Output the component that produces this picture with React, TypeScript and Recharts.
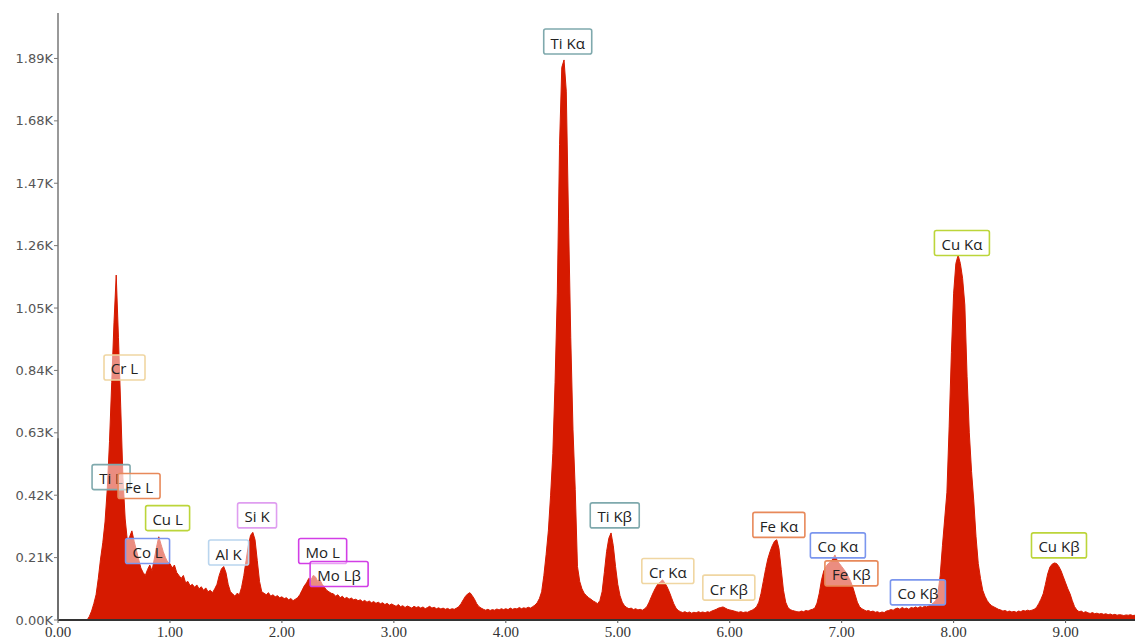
import React from "react";
import {
  AreaChart,
  Area,
  XAxis,
  YAxis,
  ReferenceDot,
  ReferenceLine,
} from "recharts";

// channel width of the spectrum, keV
const CHANNEL_KEV = 0.02;

// counts per channel, one row of 10 channels each (0.00 - 0.98 keV)
const counts0 = [
  0, 0, 0, 0, 0, 0, 0, 0, 0, 0,
  0, 0, 0, 0, 12, 30, 55, 85, 140, 205,
  260, 330, 440, 600, 800, 1000, 1161, 950, 720, 480,
  340, 265, 280, 300, 265, 235, 205, 175, 160, 150,
  170, 185, 165, 205, 245, 280, 255, 230, 210, 195,
];
const counts1 = [
  190, 175, 185, 160, 150, 140, 150, 125, 130, 115,
  120, 110, 118, 105, 112, 100, 108, 95, 100, 92,
  105, 120, 150, 172, 180, 160, 120, 95, 88, 80,
  90, 85, 110, 150, 200, 250, 285, 295, 270, 200,
  130, 95, 90, 85, 92, 80, 85, 78, 82, 75,
];
const counts2 = [
  78, 72, 75, 68, 72, 65, 70, 75, 85, 100,
  115, 125, 140, 135, 150, 145, 130, 135, 120, 110,
  100, 95, 90, 88, 80, 85, 75, 80, 72, 76,
  70, 74, 68, 70, 65, 68, 62, 66, 60, 64,
  58, 62, 56, 60, 55, 58, 52, 56, 50, 54,
];
const counts3 = [
  50, 46, 52, 45, 48, 42, 47, 44, 40, 46,
  42, 45, 40, 44, 38, 42, 46, 40, 43, 38,
  41, 37, 40, 36, 39, 35, 38, 36, 40, 45,
  55, 68, 80, 88, 92, 82, 70, 55, 45, 40,
  36, 33, 36, 32, 35, 33, 37, 34, 38, 35,
];
const counts4 = [
  38, 35, 40, 36, 39, 37, 42, 38, 41, 39,
  43, 40, 45, 50, 58, 72, 95, 150, 220, 300,
  420, 560, 800, 1100, 1600, 1860, 1885, 1780, 1350, 950,
  640, 440, 180, 130, 105, 90, 82, 75, 70, 64,
  60, 55, 65, 95, 160, 230, 275, 293, 250, 180,
];
const counts5 = [
  120, 82, 60, 48, 42, 38, 40, 35, 38, 34,
  36, 33, 38, 45, 60, 78, 95, 110, 122, 128,
  135, 125, 112, 95, 75, 55, 40, 32, 28, 25,
  28, 24, 27, 23, 26, 24, 28, 25, 27, 24,
  28, 26, 30, 33, 36, 40, 42, 44, 40, 36,
];
const counts6 = [
  34, 32, 30, 28, 26, 28, 25, 27, 26, 30,
  33, 38, 45, 60, 90, 130, 170, 205, 230, 250,
  265, 270, 240, 170, 100, 60, 42, 35, 32, 30,
  28, 27, 30, 28, 32, 30, 34, 36, 40, 57,
  90, 135, 165, 180, 190, 195, 205, 219, 200, 190,
];
const counts7 = [
  180, 170, 160, 145, 130, 110, 85, 60, 45, 38,
  34, 30, 32, 28, 30, 26, 28, 24, 27, 25,
  30, 32, 35, 33, 38, 40, 36, 42, 38, 40,
  36, 42, 40, 44, 40, 45, 42, 46, 44, 48,
  52, 58, 65, 90, 150, 250, 340, 430, 650, 900,
];
const counts8 = [
  1100, 1200, 1228, 1200, 1150, 1060, 820, 630, 500, 400,
  280, 190, 140, 100, 80, 65, 55, 48, 44, 40,
  36, 34, 30, 32, 28, 30, 27, 29, 26, 30,
  28, 32, 30, 33, 31, 33, 36, 42, 55, 70,
  88, 120, 155, 178, 188, 192, 190, 180, 165, 145,
];
const counts9 = [
  125, 105, 88, 65, 45, 34, 28, 30, 25, 28,
  24, 22, 25, 21, 23, 20, 22, 19, 21, 18,
  20, 17, 19, 16, 18, 17, 15, 17, 16, 18,
  15, 16,
];

const energyTicks = [0, 1, 2, 3, 4, 5, 6, 7, 8, 9];
const countTicks = [0, 210, 420, 630, 840, 1050, 1260, 1470, 1680, 1890];

// peak identifications: name, anchor energy (keV), anchor counts
const lineNames = [
  "Ti Kα", "Cr L", "Ti L", "Fe L", "Cu L", "Co L", "Al K", "Si K", "Mo L", "Mo Lβ",
  "Ti Kβ", "Cr Kα", "Cr Kβ", "Fe Kα", "Co Kα", "Fe Kβ", "Co Kβ", "Cu Kα", "Cu Kβ",
];
const lineEnergy = [
  4.553, 0.594, 0.474, 0.724, 0.979, 0.8, 1.524, 1.778, 2.364, 2.511,
  4.973, 5.447, 5.992, 6.439, 6.966, 7.087, 7.681, 8.074, 8.941,
];
const lineLevel = [
  1947, 850, 481, 451, 343, 232, 227, 352, 232, 155,
  352, 165, 109, 320, 251, 157, 93, 1269, 251,
];

const elementColor: Record<string, string> = {
  Ti: "#7fa9ad",
  Cr: "#f0d6a2",
  Fe: "#e8895a",
  Cu: "#bcd53a",
  Co: "#7b96ee",
  Al: "#b9d5ee",
  Si: "#df9ef0",
  Mo: "#d23fe6",
};

const spectrum = [
  ...counts0, ...counts1, ...counts2, ...counts3, ...counts4,
  ...counts5, ...counts6, ...counts7, ...counts8, ...counts9,
].map((c, i) => ({ energy: +(i * CHANNEL_KEV).toFixed(2), counts: c }));

const LABEL_FONT = "15px 'Open Sans'";
let measureCtx: CanvasRenderingContext2D | null = null;
function textWidth(s: string) {
  if (!measureCtx) measureCtx = document.createElement("canvas").getContext("2d");
  if (!measureCtx) return s.length * 9;
  measureCtx.font = LABEL_FONT;
  return measureCtx.measureText(s).width;
}

function LineTag({ cx, cy, name }: { cx?: number; cy?: number; name: string }) {
  if (cx == null || cy == null) return null;
  const w = Math.round(textWidth(name) + 14);
  const h = 25;
  const color = elementColor[name.split(" ")[0]];
  return (
    <g>
      <rect
        x={cx - w / 2}
        y={cy - h / 2}
        width={w}
        height={h}
        rx={2}
        fill="rgba(255,255,255,0.5)"
        stroke={color}
        strokeWidth={1.6}
      />
      <text
        x={cx}
        y={cy + 1}
        textAnchor="middle"
        dominantBaseline="central"
        fontFamily="'Open Sans'"
        fontSize={15}
        fill="#222"
      >
        {name}
      </text>
    </g>
  );
}

export default function App() {
  return (
    <div style={{ width: 1135, height: 639, background: "#fff" }}>
      <style>{"body{margin:0}"}</style>
      <AreaChart
        width={1135}
        height={639}
        data={spectrum}
        margin={{ top: 13, right: 0, bottom: 0, left: 0 }}
      >
        <XAxis
          dataKey="energy"
          type="number"
          domain={[0, 9.62]}
          ticks={energyTicks}
          allowDataOverflow
          tickFormatter={(v: number) => v.toFixed(2)}
          height={19}
          tickSize={3}
          tickMargin={3}
          axisLine={{ stroke: "#333", strokeWidth: 2 }}
          tickLine={{ stroke: "#555" }}
          tick={{ fill: "#333", fontSize: 15, fontFamily: "'Liberation Serif'" }}
        />
        <YAxis
          type="number"
          domain={[0, 2043]}
          ticks={countTicks}
          allowDataOverflow
          tickFormatter={(v: number) => (v / 1000).toFixed(2) + "K"}
          width={58}
          tickSize={4}
          tickMargin={1}
          axisLine={{ stroke: "#777", strokeWidth: 1.5 }}
          tickLine={{ stroke: "#777" }}
          tick={{ fill: "#555", fontSize: 13, fontFamily: "'DejaVu Sans'" }}
        />
        <Area
          dataKey="counts"
          type="linear"
          stroke="#d61a00"
          strokeWidth={1}
          fill="#d61a00"
          fillOpacity={1}
          isAnimationActive={false}
        />
        <ReferenceLine
          segment={[{ x: 0, y: 0 }, { x: 0, y: 612 }]}
          stroke="#555"
          strokeWidth={2}
        />
        {lineNames.map((name, i) => (
          <ReferenceDot
            key={name}
            x={lineEnergy[i]}
            y={lineLevel[i]}
            r={0}
            ifOverflow="visible"
            shape={(p: any) => <LineTag cx={p.cx} cy={p.cy} name={name} />}
          />
        ))}
      </AreaChart>
    </div>
  );
}
